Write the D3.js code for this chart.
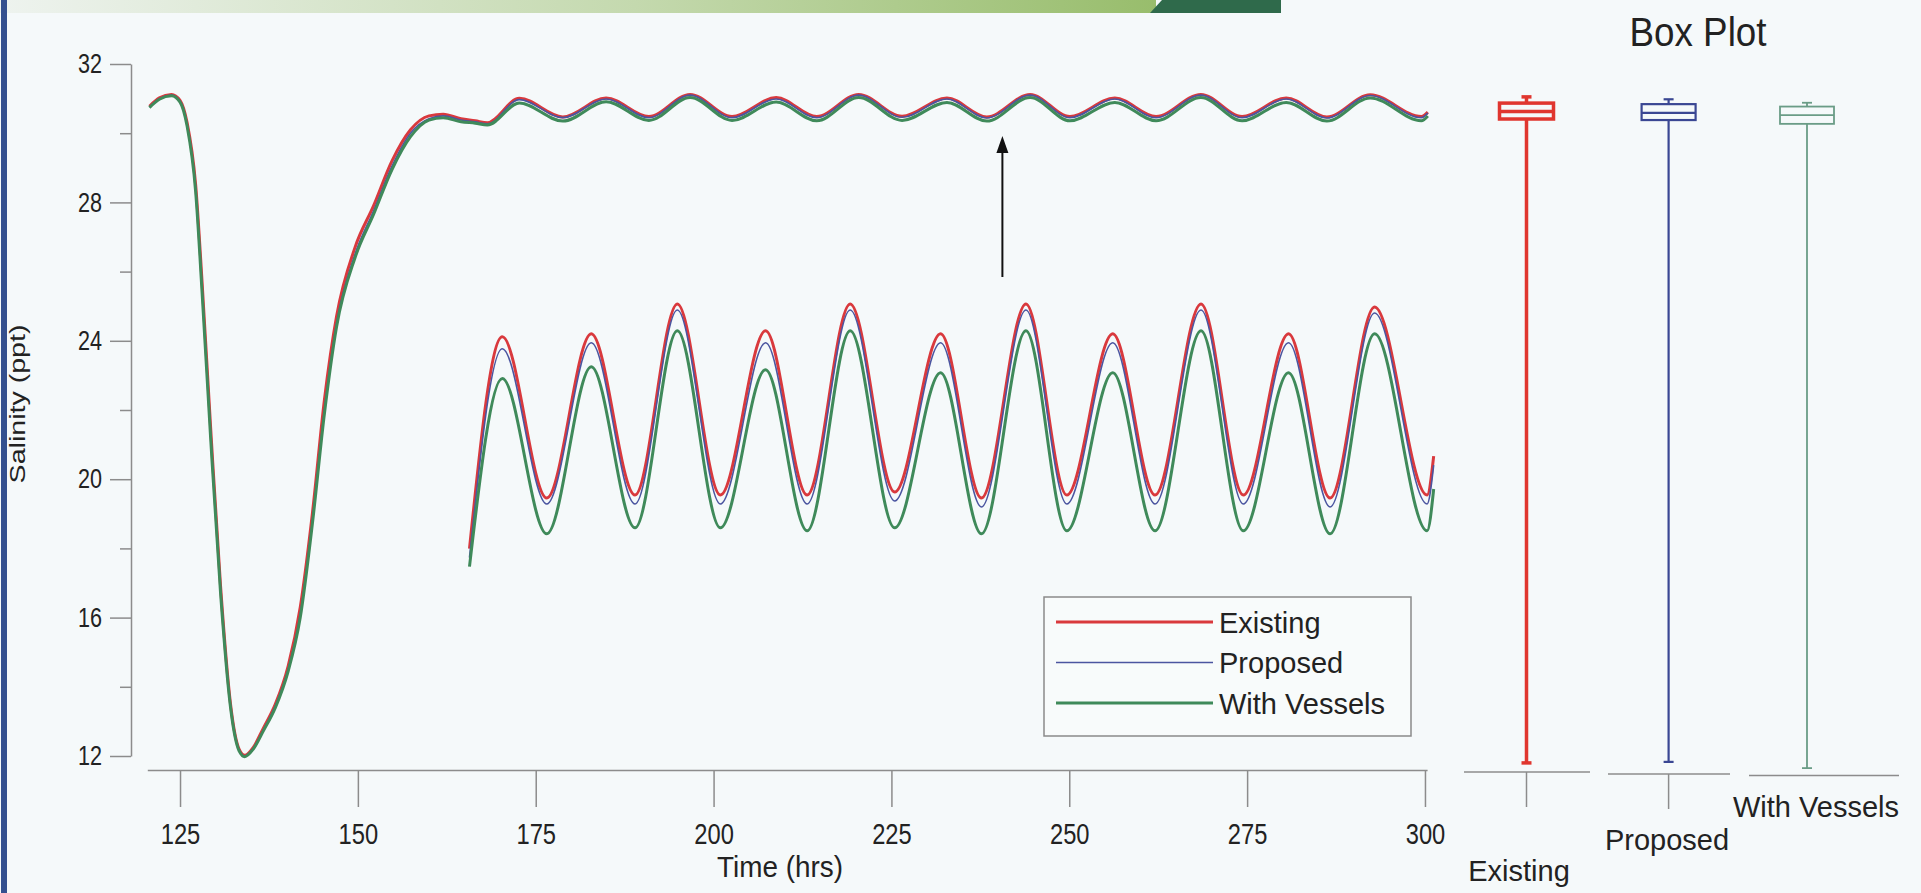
<!DOCTYPE html>
<html><head><meta charset="utf-8">
<script src="https://cdn.jsdelivr.net/npm/d3@7"></script>
<style>html,body{margin:0;padding:0;background:#f5f9fa;}svg{display:block;}</style>
</head><body>
<script>
// ---------- DATA ----------
const hours = [120.7,122.1,123.8,125.0,126.0,127.2,128.1,129.3,130.7,132.1,133.3,134.1,135.3,136.7,138.4,140.2,141.9,143.6,145.3,147.0,149.6,152.2,154.8,157.4,160.0,162.0,164.5,166.5,168.2,
  172.7,178.8,184.9,190.9,196.7,202.6,208.8,214.5,220.4,226.5,232.8,238.4,244.5,250.1,256.4,262.2,268.5,274.3,280.5,286.2,292.3,299.5,300.4];
const existing = [30.78,31.02,31.12,30.95,30.30,28.5,25.7,21.5,16.9,13.5,12.2,12.02,12.25,12.8,13.5,14.6,16.3,19.0,22.3,24.7,26.7,27.9,29.2,30.1,30.5,30.55,30.42,30.36,30.30,
  31.01,30.47,31.02,30.48,31.12,30.48,31.03,30.48,31.12,30.49,31.02,30.47,31.12,30.48,31.02,30.48,31.12,30.48,31.02,30.47,31.11,30.48,30.61];
const proposed = [30.76,31.0,31.1,30.93,30.25,28.4,25.5,21.3,16.8,13.45,12.18,12.0,12.22,12.75,13.45,14.5,16.1,18.8,22.0,24.5,26.5,27.75,29.05,30.0,30.42,30.5,30.38,30.33,30.27,
  30.97,30.45,30.99,30.45,31.10,30.45,30.99,30.45,31.10,30.46,30.99,30.44,31.10,30.45,30.99,30.45,31.10,30.45,30.99,30.44,31.09,30.45,30.58];
const withVessels = [30.74,30.98,31.08,30.9,30.2,28.3,25.4,21.2,16.7,13.4,12.15,11.98,12.2,12.72,13.4,14.45,16.0,18.7,21.9,24.4,26.4,27.65,28.95,29.9,30.38,30.45,30.33,30.29,30.24,
  30.87,30.35,30.91,30.37,31.03,30.37,30.90,30.36,31.03,30.37,30.89,30.35,31.03,30.36,30.89,30.36,31.03,30.36,30.89,30.35,31.02,30.36,30.50];
const insetStart = 168.2;
const seriesNames = ["Existing","Proposed","With Vessels"];
const xTicks = [125,150,175,200,225,250,275,300];
const yTicks = [12,16,20,24,28,32];
const yMinorTicks = [14,18,22,26,30];
// box plot stats: [min, q1, median, q3, max]
const boxExisting = [11.80,30.41,30.63,30.87,31.05];
const boxProposed = [11.83,30.38,30.59,30.84,30.98];
const boxWithVessels = [11.65,30.27,30.52,30.77,30.88];
const arrowHour = 240.6;

// ---------- STYLE ----------
const colors = {"Existing":"#d9393d","Proposed":"#4b55a0","With Vessels":"#3f8a5a"};
const widths = {"Existing":3,"Proposed":1.6,"With Vessels":3};
const boxColors = {"Existing":"#e0362f","Proposed":"#3a4793","With Vessels":"#6a9c86"};
const boxWidths = {"Existing":3.5,"Proposed":2.2,"With Vessels":1.8};
const FONT = "'Liberation Sans', Arial, sans-serif";
const axisColor = "#8c8c8c";

const W = 1921, H = 893;
const svg = d3.select("body").append("svg").attr("width", W).attr("height", H);
svg.append("rect").attr("width", W).attr("height", H).attr("fill", "#f5f9fa");

// banner
const defs = svg.append("defs");
const gr = defs.append("linearGradient").attr("id","ban").attr("x1","0").attr("x2","1");
gr.append("stop").attr("offset","0").attr("stop-color","#eef3ef");
gr.append("stop").attr("offset","0.55").attr("stop-color","#c4d9ae");
gr.append("stop").attr("offset","1").attr("stop-color","#98bd6c");
svg.append("rect").attr("x",0).attr("y",0).attr("width",1156).attr("height",13).attr("fill","url(#ban)");
svg.append("path").attr("d","M1150,13 L1162,0 L1281,0 L1281,13 Z").attr("fill","#2f6a4b");
svg.append("rect").attr("x",1).attr("y",0).attr("width",6).attr("height",H).attr("fill","#34508f");

// scales
const x = d3.scaleLinear().domain([120.4, 300.3]).range([147.3, 1427.1]);
const y = d3.scaleLinear().domain([12, 32]).range([756, 64]);
const xInset = d3.scaleLinear().domain([172.7, 292.3]).range([502.3, 1374.6]);
const yInset = d3.scaleLinear().domain([30.48, 31.12]).range([495, 304]);

// y axis
const gy = svg.append("g").attr("transform","translate(131,0)")
  .call(d3.axisLeft(y).tickValues(yTicks).tickSize(21).tickSizeOuter(0).tickPadding(15.25));
gy.select(".domain").attr("stroke", axisColor).attr("stroke-width",1.5);
gy.selectAll(".tick line").attr("stroke", axisColor).attr("stroke-width",1.5);
gy.selectAll(".tick text").attr("font-family",FONT).attr("font-size",27).attr("fill","#222")
  .attr("transform","scale(0.8,1)");
const gym = svg.append("g").attr("transform","translate(131,0)")
  .call(d3.axisLeft(y).tickValues(yMinorTicks).tickSize(11).tickFormat(""));
gym.select(".domain").remove();
gym.selectAll(".tick line").attr("stroke", axisColor).attr("stroke-width",1.5);

// x axis
const gx = svg.append("g").attr("transform","translate(0,770)")
  .call(d3.axisBottom(x).tickValues(xTicks).tickSize(37).tickSizeOuter(0).tickPadding(16));
gx.select(".domain").attr("stroke", axisColor).attr("stroke-width",1.5);
gx.selectAll(".tick line").attr("stroke", axisColor).attr("stroke-width",1.5);
gx.selectAll(".tick text").attr("font-family",FONT).attr("font-size",30).attr("fill","#222")
  .attr("transform","scale(0.79,1)");

svg.append("text").attr("transform","translate(780,877) scale(0.93,1)").attr("text-anchor","middle")
  .attr("font-family",FONT).attr("font-size",30).attr("fill","#222").text("Time (hrs)");
svg.append("text").attr("transform","translate(25,404) rotate(-90) scale(1.3,1)").attr("text-anchor","middle")
  .attr("font-family",FONT).attr("font-size",22).attr("fill","#222").text("Salinity (ppt)");

// lines
const seriesData = {"Existing":existing,"Proposed":proposed,"With Vessels":withVessels};
const line = d3.line().x(d => x(d[0])).y(d => y(d[1])).curve(d3.curveMonotoneX);
const lineInset = d3.line().x(d => xInset(d[0])).y(d => yInset(d[1])).curve(d3.curveMonotoneX);
seriesNames.forEach(n => {
  const pts = hours.map((h,i) => [h, seriesData[n][i]]);
  svg.append("path").attr("d", line(pts)).attr("fill","none").attr("stroke",colors[n])
    .attr("stroke-width",widths[n]).attr("stroke-linejoin","round");
});
seriesNames.forEach(n => {
  const pts = hours.map((h,i) => [h, seriesData[n][i]]).filter(d => d[0] >= insetStart);
  svg.append("path").attr("d", lineInset(pts)).attr("fill","none").attr("stroke",colors[n])
    .attr("stroke-width",widths[n]).attr("stroke-linejoin","round");
});

// arrow
const ax = x(arrowHour);
svg.append("line").attr("x1",ax).attr("x2",ax).attr("y1",277).attr("y2",150).attr("stroke","#111").attr("stroke-width",2);
svg.append("path").attr("d",`M${ax},136 L${ax-6},153 L${ax+6},153 Z`).attr("fill","#111");

// legend
const lg = svg.append("g");
lg.append("rect").attr("x",1044).attr("y",597).attr("width",367).attr("height",139)
  .attr("fill","#f8fbfb").attr("stroke","#8a8a8a").attr("stroke-width",1.5);
seriesNames.forEach((n,i) => {
  const ly = 622 + i*40.5;
  lg.append("line").attr("x1",1056).attr("x2",1213).attr("y1",ly).attr("y2",ly)
    .attr("stroke",colors[n]).attr("stroke-width",widths[n]);
  lg.append("text").attr("x",1219).attr("y",ly+10.5).attr("font-family",FONT).attr("font-size",29)
    .attr("fill","#222").text(n);
});

// box plots
svg.append("text").attr("transform","translate(1698,46) scale(0.92,1)").attr("text-anchor","middle")
  .attr("font-family",FONT).attr("font-size",40).attr("fill","#222").text("Box Plot");
const boxes = [
  {name:"Existing", stats:boxExisting, cx:1526.5, base:[1464,1590,772], tick:true, label:[1519,881]},
  {name:"Proposed", stats:boxProposed, cx:1668.6, base:[1608,1730,774], tick:true, label:[1667,850]},
  {name:"With Vessels", stats:boxWithVessels, cx:1807, base:[1749,1899,775.5], tick:false, label:[1816,817]}
];
boxes.forEach(b => {
  const g = svg.append("g");
  const c = boxColors[b.name], sw = boxWidths[b.name];
  const [mn,q1,md,q3,mx] = b.stats;
  const hw = 27;
  g.append("line").attr("x1",b.cx).attr("x2",b.cx).attr("y1",y(mn)).attr("y2",y(q1)).attr("stroke",c).attr("stroke-width",sw);
  g.append("line").attr("x1",b.cx).attr("x2",b.cx).attr("y1",y(q3)).attr("y2",y(mx)).attr("stroke",c).attr("stroke-width",sw);
  g.append("line").attr("x1",b.cx-5).attr("x2",b.cx+5).attr("y1",y(mx)).attr("y2",y(mx)).attr("stroke",c).attr("stroke-width",sw);
  g.append("line").attr("x1",b.cx-5).attr("x2",b.cx+5).attr("y1",y(mn)).attr("y2",y(mn)).attr("stroke",c).attr("stroke-width",sw);
  g.append("rect").attr("x",b.cx-hw).attr("y",y(q3)).attr("width",2*hw).attr("height",y(q1)-y(q3))
    .attr("fill","none").attr("stroke",c).attr("stroke-width",sw);
  g.append("line").attr("x1",b.cx-hw).attr("x2",b.cx+hw).attr("y1",y(md)).attr("y2",y(md)).attr("stroke",c).attr("stroke-width",sw);
  g.append("line").attr("x1",b.base[0]).attr("x2",b.base[1]).attr("y1",b.base[2]).attr("y2",b.base[2])
    .attr("stroke",axisColor).attr("stroke-width",1.5);
  if (b.tick) g.append("line").attr("x1",b.cx).attr("x2",b.cx).attr("y1",b.base[2]).attr("y2",b.base[2]+35)
    .attr("stroke",axisColor).attr("stroke-width",1.5);
  g.append("text").attr("x",b.label[0]).attr("y",b.label[1]).attr("text-anchor","middle")
    .attr("font-family",FONT).attr("font-size",29).attr("fill","#222").text(b.name);
});
</script>
</body></html>
